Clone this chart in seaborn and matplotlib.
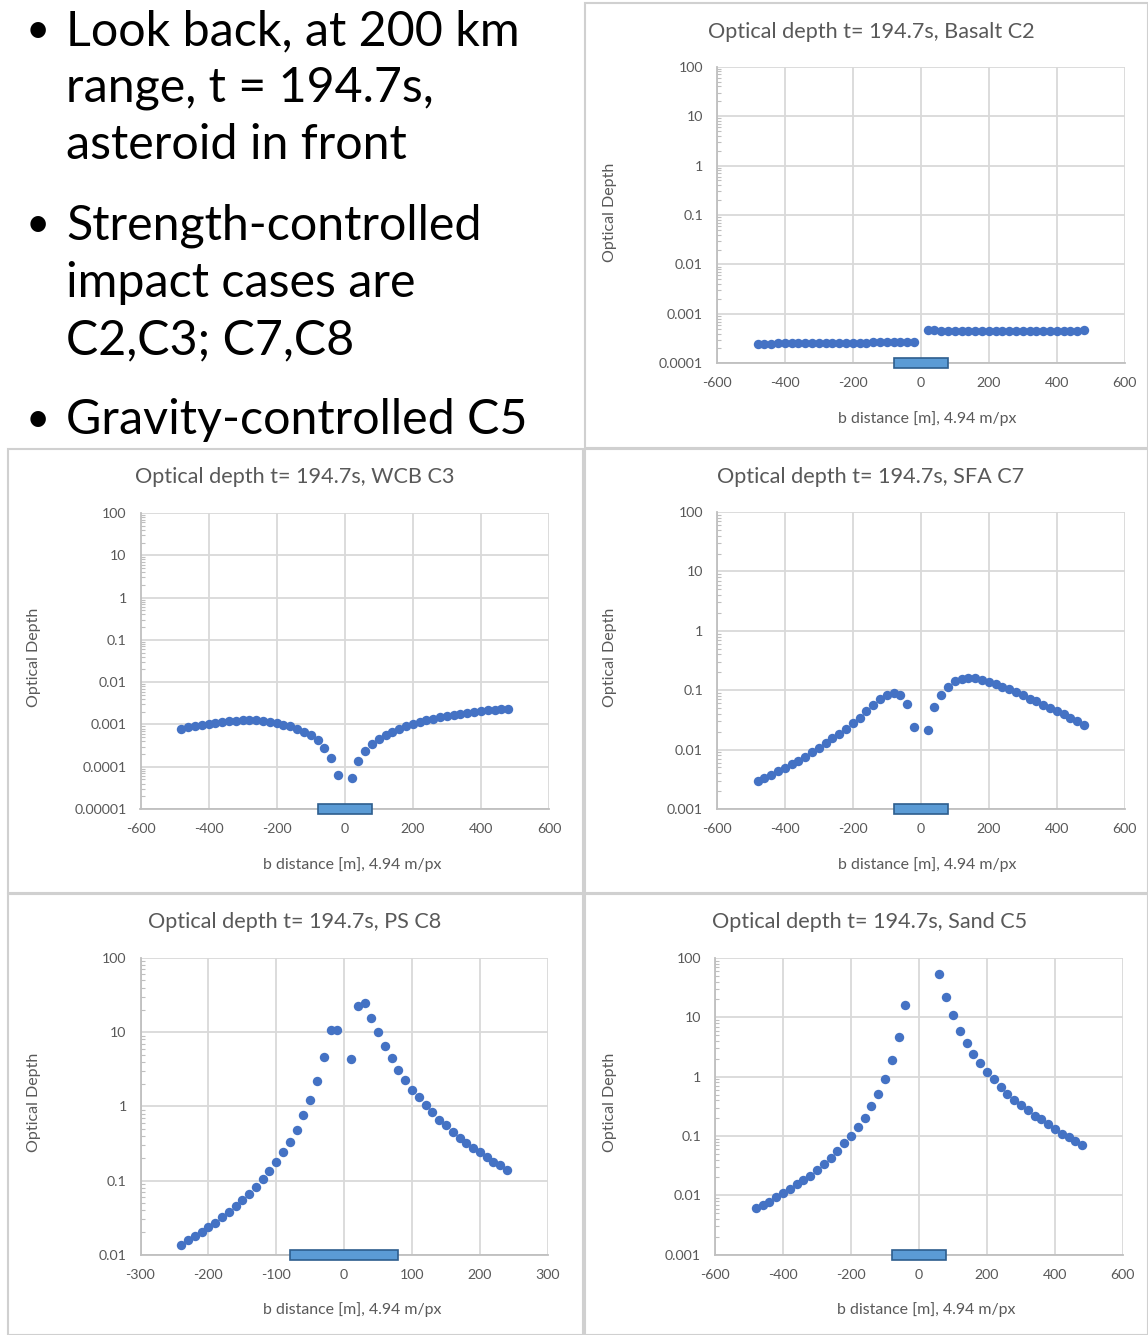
import numpy as np
import pandas as pd
import seaborn as sns
import matplotlib
matplotlib.use("Agg")
import matplotlib.pyplot as plt
from matplotlib.patches import Rectangle
from matplotlib.ticker import LogLocator, NullFormatter
import matplotlib.transforms as mtransforms

# ---------------- data ----------------
bullet_lines = [
    ["Look back, at 200 km", "range, t = 194.7s,", "asteroid in front"],
    ["Strength-controlled", "impact cases are", "C2,C3; C7,C8"],
    ["Gravity-controlled C5"],
]

title_prefix = "Optical depth t= 194.7s, "
xlabel_text = "b distance [m], 4.94 m/px"
ylabel_text = "Optical Depth"

x_left20 = [-480, -460, -440, -420, -400, -380, -360, -340, -320, -300, -280, -260,
            -240, -220, -200, -180, -160, -140, -120, -100, -80, -60, -40, -20]
x_right20 = [20, 40, 60, 80, 100, 120, 140, 160, 180, 200, 220, 240,
             260, 280, 300, 320, 340, 360, 380, 400, 420, 440, 460, 480]

# Basalt C2
basalt_x = x_left20 + x_right20
basalt_y = [2.42e-4, 2.44e-4, 2.50e-4, 2.52e-4, 2.53e-4, 2.54e-4, 2.55e-4, 2.55e-4,
            2.56e-4, 2.56e-4, 2.56e-4, 2.57e-4, 2.57e-4, 2.58e-4, 2.60e-4, 2.62e-4,
            2.63e-4, 2.64e-4, 2.65e-4, 2.65e-4, 2.66e-4, 2.66e-4, 2.67e-4, 2.68e-4,
            4.65e-4, 4.62e-4, 4.60e-4, 4.60e-4, 4.58e-4, 4.58e-4, 4.57e-4, 4.57e-4,
            4.57e-4, 4.56e-4, 4.56e-4, 4.56e-4, 4.56e-4, 4.57e-4, 4.57e-4, 4.57e-4,
            4.58e-4, 4.58e-4, 4.58e-4, 4.59e-4, 4.59e-4, 4.60e-4, 4.60e-4, 4.62e-4]

# WCB C3
wcb_x = x_left20 + x_right20
wcb_y = [0.00079, 0.00086, 0.00093, 0.00098, 0.00104, 0.00110, 0.00114, 0.00118,
         0.00122, 0.00126, 0.00126, 0.00124, 0.00120, 0.00114, 0.00106, 0.00098,
         0.00090, 0.00080, 0.00068, 0.00056, 0.00042, 0.00028, 0.00016, 0.000063,
         0.000055, 0.000135, 0.00023, 0.00035, 0.00046, 0.00056, 0.00067, 0.00079,
         0.00090, 0.00102, 0.00114, 0.00124, 0.00136, 0.00146, 0.00157, 0.00169,
         0.00179, 0.00189, 0.00199, 0.00207, 0.00214, 0.00222, 0.00226, 0.00230]

# SFA C7
sfa_x = x_left20 + x_right20
sfa_y = [0.0030, 0.0033, 0.0037, 0.0043, 0.0049, 0.0057, 0.0065, 0.0076,
         0.0091, 0.0108, 0.0128, 0.0155, 0.0184, 0.0223, 0.0279, 0.0347,
         0.0448, 0.0565, 0.0705, 0.083, 0.091, 0.082, 0.059, 0.0244,
         0.021, 0.052, 0.082, 0.115, 0.142, 0.155, 0.161, 0.161,
         0.151, 0.138, 0.128, 0.115, 0.104, 0.093, 0.082, 0.072,
         0.065, 0.057, 0.050, 0.044, 0.039, 0.034, 0.030, 0.026]

# PS C8
ps_x = [-240, -230, -220, -210, -200, -190, -180, -170, -160, -150, -140, -130,
        -120, -110, -100, -90, -80, -70, -60, -50, -40, -30, -20, -10,
        10, 20, 30, 40, 50, 60, 70, 80, 90, 100, 110, 120,
        130, 140, 150, 160, 170, 180, 190, 200, 210, 220, 230, 240]
ps_y = [0.0136, 0.0156, 0.0177, 0.0202, 0.0234, 0.0267, 0.032, 0.0376,
        0.045, 0.055, 0.066, 0.083, 0.104, 0.135, 0.176, 0.24,
        0.335, 0.485, 0.76, 1.23, 2.2, 4.6, 10.6, 10.6,
        4.3, 22.7, 24.6, 15.6, 10.2, 6.6, 4.5, 3.1,
        2.3, 1.68, 1.34, 1.03, 0.84, 0.66, 0.56, 0.45,
        0.38, 0.32, 0.275, 0.24, 0.207, 0.18, 0.16, 0.14]

# Sand C5
sand_x = [-480, -460, -440, -420, -400, -380, -360, -340, -320, -300, -280, -260,
          -240, -220, -200, -180, -160, -140, -120, -100, -80, -60, -40,
          60, 80, 100, 120, 140, 160, 180, 200, 220, 240, 260, 280,
          300, 320, 340, 360, 380, 400, 420, 440, 460, 480]
sand_y = [0.0062, 0.0068, 0.0078, 0.0094, 0.011, 0.013, 0.0153, 0.0179,
          0.0214, 0.027, 0.034, 0.043, 0.055, 0.076, 0.10, 0.14,
          0.205, 0.316, 0.51, 0.93, 1.9, 4.6, 16.4,
          53.7, 21.7, 10.8, 6.0, 3.73, 2.4, 1.68, 1.18, 0.91, 0.68, 0.52, 0.41,
          0.33, 0.27, 0.22, 0.19, 0.16, 0.13, 0.11, 0.095, 0.083, 0.071]

asteroid_span = (-80, 80)

xticks_600 = [-600, -400, -200, 0, 200, 400, 600]
xticks_300 = [-300, -200, -100, 0, 100, 200, 300]
ytick_values = [1e-5, 1e-4, 1e-3, 1e-2, 1e-1, 1, 10, 100]
ytick_labels = ["0.00001", "0.0001", "0.001", "0.01", "0.1", "1", "10", "100"]

# ---------------- style ----------------
sns.set_theme(style="white")
plt.rcParams["font.family"] = ["Lato", "DejaVu Sans"]

W, H = 1148, 1335
fig = plt.figure(figsize=(W / 100, H / 100), dpi=100)
fig.patch.set_facecolor("white")

def fx(px):
    return px / W

def fy(py):
    return 1 - py / H

GRID = "#d9d9d9"
TXT = "#595959"
DOT = "#4472C4"

# panel frames (pixel coords: x0, y0, x1, y1)
panels = [(585, 3, 1148, 448), (8, 449, 583, 893), (585, 449, 1148, 893),
          (8, 894, 583, 1335), (585, 894, 1148, 1335)]
for (x0, y0, x1, y1) in panels:
    fig.add_artist(Rectangle((fx(x0), fy(y1)), fx(x1) - fx(x0), fy(y0) - fy(y1),
                             transform=fig.transFigure, fill=False,
                             ec="#d0d0d0", lw=1.5))

# bullet text
line_y = [[45, 102, 159], [239, 297, 354], [434]]
for lines, ys in zip(bullet_lines, line_y):
    fig.text(fx(38), fy(ys[0] - 2), "\u2022", fontsize=30, ha="center",
             va="baseline", color="black")
    for txt, yy in zip(lines, ys):
        fig.text(fx(66), fy(yy), txt, fontsize=34.8, ha="left", va="baseline",
                 color="black")

# chart specs: (name, x, y, ymin, xticks, axes px box (left, top, right, bottom),
#               title center, xlabel center, ylabel center)
charts = [
    ("Basalt C2", basalt_x, basalt_y, 1e-4, xticks_600, (716.8, 66.7, 1124.7, 363.3),
     (871, 32), (927, 419), (610, 212)),
    ("WCB C3", wcb_x, wcb_y, 1e-5, xticks_600, (140.5, 513, 549, 809),
     (295, 477), (352, 865), (34, 657)),
    ("SFA C7", sfa_x, sfa_y, 1e-3, xticks_600, (716.8, 512, 1124.7, 809),
     (871, 477), (927, 865), (610, 657)),
    ("PS C8", ps_x, ps_y, 1e-2, xticks_300, (140.5, 958, 547.8, 1254.7),
     (295, 922), (352, 1310), (34, 1102)),
    ("Sand C5", sand_x, sand_y, 1e-3, xticks_600, (715, 958, 1122.9, 1254.7),
     (870, 922), (926, 1310), (610, 1102)),
]

for name, xs, ys, ymin, xt, box, tpos, xlpos, ylpos in charts:
    l, t, r, b = box
    ax = fig.add_axes([fx(l), fy(b), fx(r) - fx(l), fy(t) - fy(b)])
    df = pd.DataFrame({"b": xs, "tau": ys})
    sns.scatterplot(data=df, x="b", y="tau", ax=ax, color=DOT, s=46,
                    linewidth=0, zorder=4, clip_on=False)
    ax.set_yscale("log")
    ax.set_xlim(xt[0], xt[-1])
    ax.set_ylim(ymin, 100)
    ax.set_xticks(xt)
    ax.set_xticklabels([str(v) for v in xt])
    yv = [v for v in ytick_values if v >= ymin * 0.999]
    yl = [lab for v, lab in zip(ytick_values, ytick_labels) if v >= ymin * 0.999]
    ax.set_yticks(yv)
    ax.set_yticklabels(yl)
    ax.yaxis.set_minor_locator(LogLocator(base=10, subs=np.arange(2, 10) * 1.0,
                                          numticks=100))
    ax.yaxis.set_minor_formatter(NullFormatter())
    ax.set_xlabel("")
    ax.set_ylabel("")
    ax.grid(True, which="major", color=GRID, lw=1.3)
    ax.set_axisbelow(True)
    for s in ["top", "right"]:
        ax.spines[s].set_visible(False)
    for s in ["left", "bottom"]:
        ax.spines[s].set_color("#bfbfbf")
        ax.spines[s].set_linewidth(1.3)
    ax.tick_params(axis="both", which="major", length=0, labelsize=10.2,
                   labelcolor=TXT)
    ax.tick_params(axis="y", which="major", pad=10)
    ax.tick_params(axis="x", which="major", pad=10)
    ax.tick_params(axis="y", which="minor", left=True, direction="in", length=3,
                   width=0.8, color="#bfbfbf")
    # asteroid box straddling the x axis
    trans = mtransforms.blended_transform_factory(ax.transData, ax.transAxes)
    ax.add_patch(Rectangle((asteroid_span[0], -0.0169),
                           asteroid_span[1] - asteroid_span[0], 0.0338,
                           transform=trans, clip_on=False, fc="#5B9BD5",
                           ec="#2E5E8E", lw=1.2, zorder=6))
    fig.text(fx(tpos[0]), fy(tpos[1]), title_prefix + name, fontsize=15.6,
             color=TXT, ha="center", va="center")
    fig.text(fx(xlpos[0]), fy(xlpos[1]), xlabel_text, fontsize=11.4, color=TXT,
             ha="center", va="center")
    fig.text(fx(ylpos[0]), fy(ylpos[1]), ylabel_text, fontsize=11.5, color=TXT,
             ha="center", va="center", rotation=90)

fig.savefig("out.png", dpi=100, facecolor="white")
